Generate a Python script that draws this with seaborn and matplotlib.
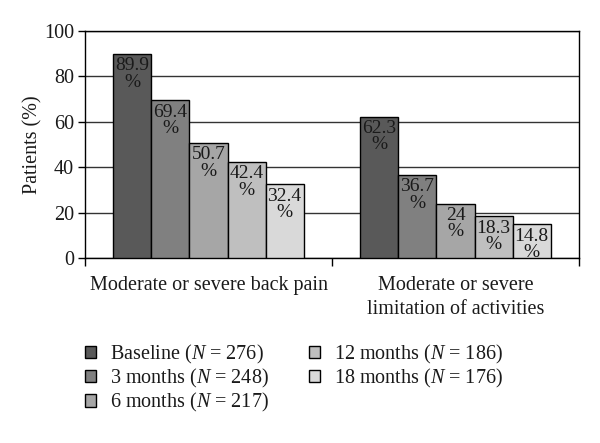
import matplotlib
matplotlib.use("Agg")
import matplotlib.pyplot as plt
import seaborn as sns
import pandas as pd

categories = ["Moderate or severe back pain", "Moderate or severe\nlimitation of activities"]
timepoints = ["Baseline ($N$ = 276)", "3 months ($N$ = 248)", "6 months ($N$ = 217)",
              "12 months ($N$ = 186)", "18 months ($N$ = 176)"]
back_pain = [89.9, 69.4, 50.7, 42.4, 32.4]
limitation = [62.3, 36.7, 24, 18.3, 14.8]
colors = ["#595959", "#808080", "#a6a6a6", "#bfbfbf", "#d9d9d9"]
yticks = [0, 20, 40, 60, 80, 100]

rows = []
for t, v in zip(timepoints, back_pain):
    rows.append({"cat": categories[0], "time": t, "val": v})
for t, v in zip(timepoints, limitation):
    rows.append({"cat": categories[1], "time": t, "val": v})
df = pd.DataFrame(rows)

sns.set_style("white")
plt.rcParams["font.family"] = ["Liberation Serif", "DejaVu Serif"]
plt.rcParams["mathtext.fontset"] = "custom"
plt.rcParams["mathtext.it"] = "Liberation Serif:italic"
plt.rcParams["mathtext.rm"] = "Liberation Serif"
txt = "#1a1a1a"
fs = 14.5

fig = plt.figure(figsize=(6, 4.43), dpi=100)
ax = fig.add_axes([85/600, 1-258/443, (579-85)/600, (258-31)/443])

sns.barplot(data=df, x="cat", y="val", hue="time", palette=colors, width=0.77,
            edgecolor="black", linewidth=1, saturation=1, ax=ax, legend=False, zorder=3)

ax.set_ylim(0, 100)
ax.set_xlim(-0.5, 1.5)
ax.set_yticks(yticks)
ax.set_yticklabels([str(y) for y in yticks], fontsize=fs, color=txt)
ax.yaxis.grid(True, color="#333333", linewidth=1, zorder=0)
ax.set_axisbelow(True)
ax.tick_params(axis="y", length=5, width=1, color="black", direction="out", pad=3, left=True)
ax.set_xticks([0, 1])
ax.set_xticklabels(categories, fontsize=fs, color=txt, linespacing=1.37, va="top")
ax.set_xticks([-0.5, 0.5, 1.5], minor=True)
ax.tick_params(axis="x", which="major", length=0, pad=13)
ax.tick_params(axis="x", which="minor", length=6, width=1, color="black", direction="out", bottom=True)
ax.set_xlabel("")
ax.set_ylabel("Patients (%)", fontsize=fs, color=txt, labelpad=1)
for s in ax.spines.values():
    s.set_color("black")
    s.set_linewidth(1)
    s.set_visible(True)

for cont in ax.containers:
    for p, v in zip(cont.patches, cont.datavalues):
        ax.annotate(f"{v:g}\n%", (p.get_x() + p.get_width()/2, p.get_height()),
                    xytext=(0, -2.5), textcoords="offset points", ha="center", va="top",
                    fontsize=14, color=txt, linespacing=0.95, zorder=5)

handles = [cont.patches[0] for cont in ax.containers]
fig.legend(handles, timepoints, loc="upper left", bbox_to_anchor=(85/600, 1-343/443),
           ncol=2, frameon=False, fontsize=fs, handlelength=0.55, handleheight=0.55,
           handletextpad=0.7, labelspacing=0.05, columnspacing=2.0, borderpad=0,
           borderaxespad=0, labelcolor=txt)

fig.savefig("out.png", dpi=100)
